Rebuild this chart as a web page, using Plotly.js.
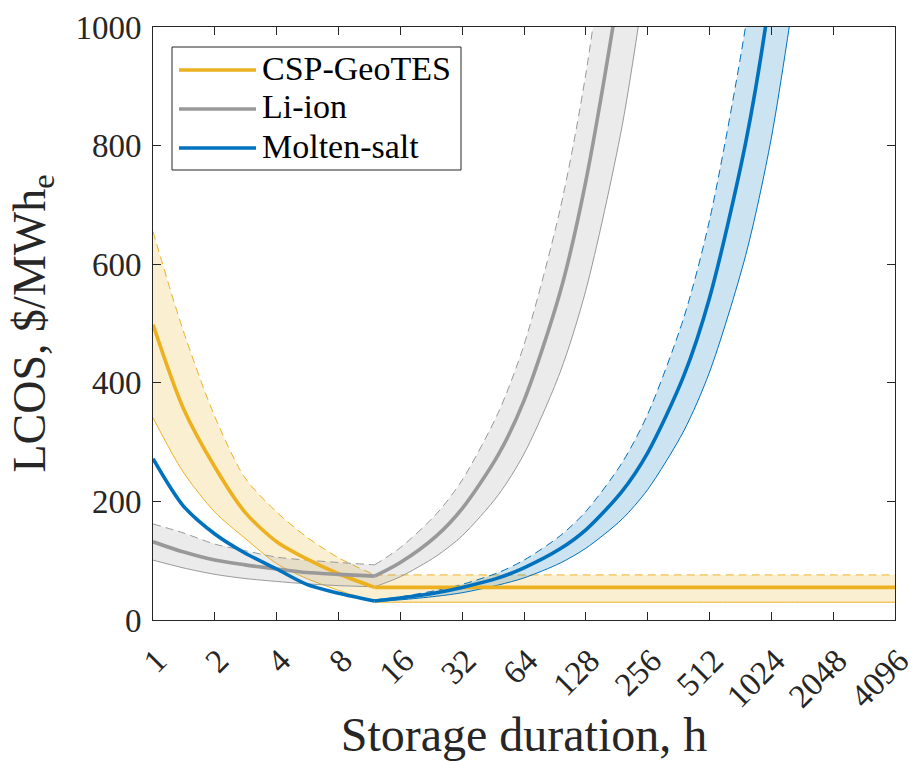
<!DOCTYPE html>
<html>
<head>
<meta charset="utf-8">
<script src="https://cdn.plot.ly/plotly-3.0.1.min.js"></script>
<style>html,body{margin:0;padding:0;background:#fff}</style>
</head>
<body>
<div id="chart" style="width:917px;height:761px"></div>
<script>
// Storage duration ticks (h), log2-spaced
const tickHours = [1, 2, 4, 8, 16, 32, 64, 128, 256, 512, 1024, 2048, 4096];
const tickLabels = ['1', '2', '4', '8', '16', '32', '64', '128', '256', '512', '1024', '2048', '4096'];
const yTicks = [0, 200, 400, 600, 800, 1000];

// Durations at which LCOS was evaluated (short: up to the 12 h optimum, long: beyond it)
const shortHours = [1, 1.4, 2, 2.8, 4, 5.6, 8, 12];
const longHours = [12, 16, 24, 32, 48, 64, 96, 128, 192, 256, 384, 512, 768, 1024, 1536, 2048, 4096];

const seriesNames = ['CSP-GeoTES', 'Li-ion', 'Molten-salt'];
const seriesColors = ['#EDB120', '#999999', '#0072BD'];
const bandColors = ['rgba(237,177,32,0.2)', 'rgba(153,153,153,0.2)', 'rgba(0,114,189,0.2)'];

// LCOS, $/MWh_e — CSP-GeoTES
const cspMeanShort  = [498, 358, 258, 182, 132, 103, 78, 55];
const cspUpperShort = [655, 489, 343, 240, 182, 140, 105, 76];
const cspLowerShort = [341, 250, 182, 138, 95, 70, 50, 30];
const cspMeanLong   = [55, 55, 55, 55, 55, 55, 55, 55, 55, 55, 55, 55, 55, 55, 55, 55, 55];
const cspUpperLong  = [76, 76, 76, 76, 76, 76, 76, 76, 76, 76, 76, 76, 76, 76, 76, 76, 76];
const cspLowerLong  = [30, 30, 30, 30, 30, 30, 30, 30, 30, 30, 30, 30, 30, 30, 30, 30, 30];

// Li-ion
const liMeanShort  = [132, 115, 101, 93, 86, 80, 77, 74];
const liUpperShort = [162, 147, 128, 117, 106, 101, 97, 93];
const liLowerShort = [101, 88, 77, 70, 65, 61, 58, 56];
const liMeanLong   = [74, 97, 142, 188, 279, 370, 553, 740, 1100, 1465];
const liUpperLong  = [93, 122, 179, 236, 350, 464, 693, 921, 1378, 1835];
const liLowerLong  = [56, 73, 108, 142, 211, 280, 418, 556, 832, 1108];

// Molten-salt
const msMeanShort  = [272, 193, 145, 113, 86, 60, 45, 32];
const msMeanLong   = [32, 37, 46, 55, 71, 88, 120, 152, 217, 282, 412, 543, 805, 1068, 1593];
const msUpperLong  = [34, 39, 50, 60, 80, 101, 142, 183, 265, 347, 510, 674, 1002, 1330, 1985];
const msLowerLong  = [31, 34, 40, 46, 59, 71, 96, 121, 170, 220, 319, 418, 615, 813, 1208];

const series = [
  {mean: [cspMeanShort, cspMeanLong], bands: [[cspLowerShort, cspUpperShort, shortHours], [cspLowerLong, cspUpperLong, longHours]]},
  {mean: [liMeanShort, liMeanLong],   bands: [[liLowerShort, liUpperShort, shortHours], [liLowerLong, liUpperLong, longHours]]},
  {mean: [msMeanShort, msMeanLong],   bands: [[msLowerLong, msUpperLong, longHours]]}
];

const FONT = "'Liberation Serif', 'Times New Roman', serif";

const traces = [];
// uncertainty bands: thin solid lower bound, dashed upper bound, shaded between
series.forEach((s, i) => {
  s.bands.forEach(([lo, hi, hrs]) => {
    traces.push({
      x: hrs.slice(0, lo.length), y: lo, type: 'scatter', mode: 'lines',
      line: {color: seriesColors[i], width: 1, shape: 'spline', smoothing: 0.8},
      showlegend: false, hoverinfo: 'skip'
    });
    traces.push({
      x: hrs.slice(0, hi.length), y: hi, type: 'scatter', mode: 'lines',
      line: {color: seriesColors[i], width: 1, dash: '8px,5px', shape: 'spline', smoothing: 0.8},
      fill: 'tonexty', fillcolor: bandColors[i],
      showlegend: false, hoverinfo: 'skip'
    });
  });
});
// central estimates (the two pieces meet at the 12 h optimum)
series.forEach((s, i) => {
  traces.push({
    x: shortHours, y: s.mean[0], type: 'scatter', mode: 'lines', name: seriesNames[i],
    line: {color: seriesColors[i], width: 3.6, shape: 'spline', smoothing: 0.8}, showlegend: false
  });
  traces.push({
    x: longHours.slice(0, s.mean[1].length), y: s.mean[1], type: 'scatter', mode: 'lines', name: seriesNames[i],
    line: {color: seriesColors[i], width: 3.6, shape: 'spline', smoothing: 0.8}, showlegend: false
  });
});

// plot-area pixel frame, used to place the boxed legend
const PL = 153, PR = 895, PT = 27, PB = 620;
const px = v => (v - PL) / (PR - PL);
const py = v => (PB - v) / (PB - PT);

const shapes = [{
  type: 'rect', xref: 'paper', yref: 'paper',
  x0: px(172), x1: px(461), y0: py(170), y1: py(47),
  line: {color: '#262626', width: 1}, fillcolor: '#ffffff', layer: 'above'
}];
const annotations = [];
const rowY = [70, 109, 148];
seriesNames.forEach((n, i) => {
  shapes.push({
    type: 'line', xref: 'paper', yref: 'paper',
    x0: px(179), x1: px(256), y0: py(rowY[i]), y1: py(rowY[i]),
    line: {color: seriesColors[i], width: 3.6}, layer: 'above'
  });
  annotations.push({
    xref: 'paper', yref: 'paper', x: px(260), y: py(rowY[i] - 2),
    xanchor: 'left', yanchor: 'middle', showarrow: false, text: n,
    font: {family: FONT, size: 34, color: '#000'}
  });
});

const layout = {
  width: 917, height: 761,
  margin: {l: 153, r: 22, t: 27, b: 141},
  paper_bgcolor: '#fff', plot_bgcolor: '#fff',
  font: {family: FONT, color: '#262626'},
  showlegend: false,
  xaxis: {
    type: 'log', range: [0, Math.log10(4096)],
    tickvals: tickHours, ticktext: tickLabels, tickangle: -45,
    tickfont: {family: FONT, size: 33, color: '#262626'},
    ticklabelstandoff: 7, ticklabelshift: 4, ticklabeloverflow: 'allow',
    ticks: 'inside', ticklen: 8, tickcolor: '#262626',
    showline: true, linecolor: '#262626', linewidth: 1, mirror: 'allticks',
    showgrid: false, zeroline: false,
    title: {text: 'Storage duration, h', font: {family: FONT, size: 48, color: '#262626'}, standoff: 14}
  },
  yaxis: {
    range: [0, 1000], tickvals: yTicks,
    tickfont: {family: FONT, size: 33, color: '#262626'},
    ticklabelstandoff: 4,
    ticks: 'inside', ticklen: 8, tickcolor: '#262626',
    showline: true, linecolor: '#262626', linewidth: 1, mirror: 'allticks',
    showgrid: false, zeroline: false,
    title: {text: 'LCOS, $/MWh<sub>e</sub>', font: {family: FONT, size: 46, color: '#262626'}, standoff: 15}
  },
  shapes: shapes,
  annotations: annotations
};

Plotly.newPlot('chart', traces, layout, {staticPlot: true, displayModeBar: false});
</script>
</body>
</html>
